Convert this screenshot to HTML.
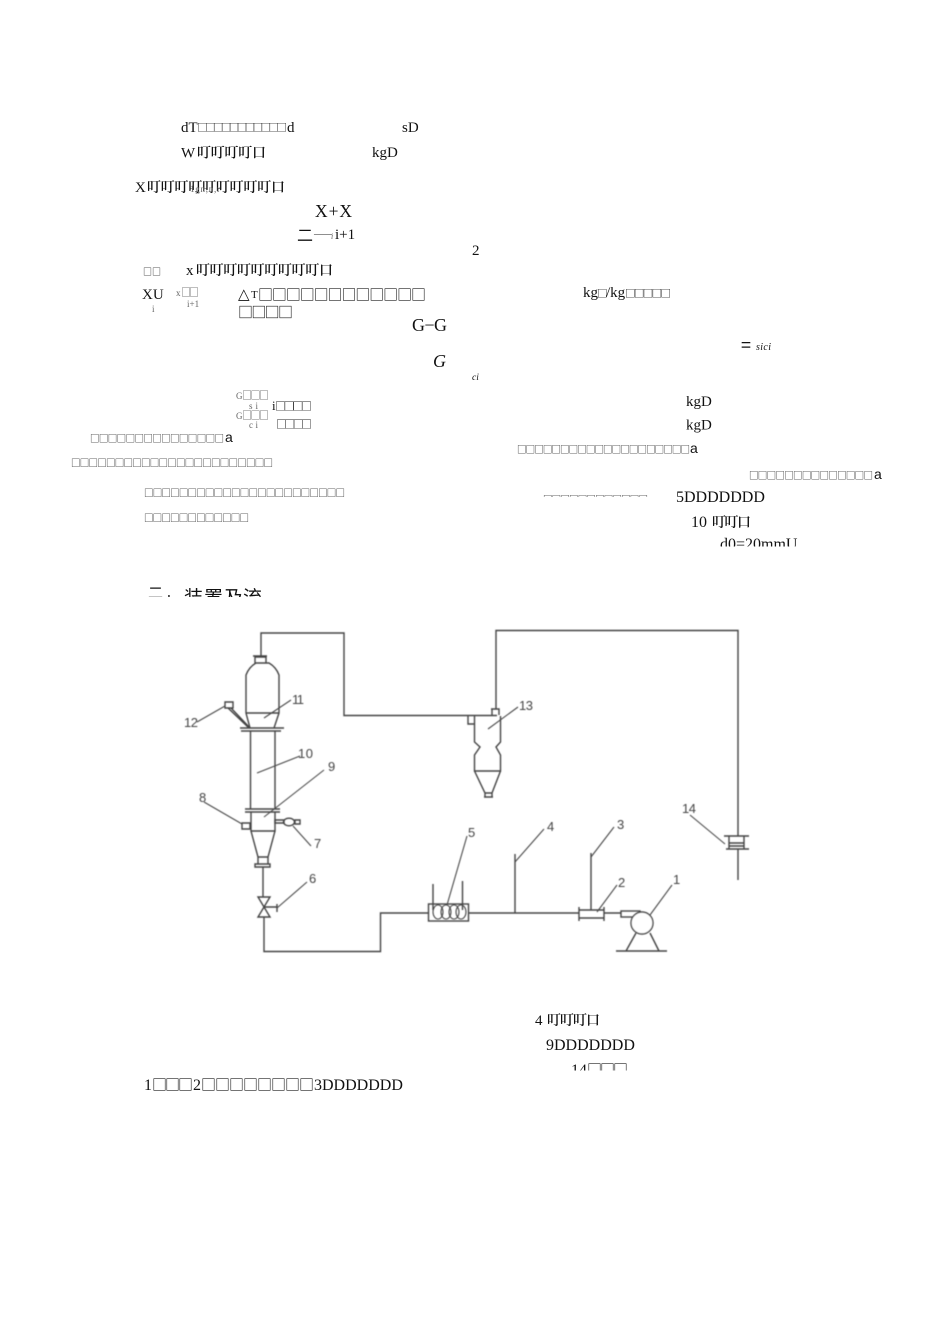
<!DOCTYPE html>
<html lang="zh">
<head>
<meta charset="utf-8">
<title>装置及流程</title>
<style>
html,body{margin:0;padding:0;background:#fff;width:950px;height:1344px;overflow:hidden}
svg{display:block;position:absolute;left:0;top:0}
text{white-space:pre}
.s{font-family:"Liberation Serif",serif;fill:#111;font-size:15px}
.t{font-family:"Liberation Serif","Noto Serif CJK SC",serif;fill:#111;font-size:14px;font-weight:600}
.q{font-family:"Noto Sans CJK SC",sans-serif;fill:#222;font-weight:500}
.m{font-family:"Noto Sans CJK SC",sans-serif;fill:#333;font-size:9.5px;font-weight:500}
.a{font-family:"Liberation Sans",sans-serif;fill:#111;font-size:14px}
.h{font-family:"Noto Sans CJK SC",sans-serif;fill:#111}
.g{font-family:"Liberation Serif",serif;fill:#666;font-size:9px}
.gq{font-family:"Noto Sans CJK SC",sans-serif;fill:#555;font-size:10px}
.l{font-family:"Liberation Sans",sans-serif;fill:#444;font-size:13px}
.d{fill:none;stroke:#444;stroke-width:1.4}
.e{fill:none;stroke:#4a4a4a;stroke-width:1.1}
</style>
</head>
<body>
<svg width="950" height="1344" viewBox="0 0 950 1344" xmlns="http://www.w3.org/2000/svg">
<defs>
<filter id="b" x="-5%" y="-5%" width="110%" height="110%"><feGaussianBlur stdDeviation="0.45"/></filter>
<clipPath id="c1"><rect x="0" y="480" width="950" height="66.5"/></clipPath>
<clipPath id="c2"><rect x="0" y="580" width="950" height="17"/></clipPath>
<clipPath id="c3"><rect x="0" y="1050" width="950" height="20.5"/></clipPath>
<clipPath id="c4"><rect x="530" y="480" width="130" height="17"/></clipPath>
</defs>

<!-- upper left text -->
<text class="s" x="181" y="132">dT</text>
<text class="q" x="197" y="131" font-size="10.5" textLength="90" lengthAdjust="spacing">□□□□□□□□□□□</text>
<text class="s" x="287" y="132">d</text>
<text class="s" x="402" y="132">sD</text>
<text class="s" x="181" y="157.5">W</text>
<text class="t" x="197" y="157.5" textLength="69" lengthAdjust="spacing">叮叮叮叮口</text>
<text class="s" x="372" y="157">kgD</text>
<text class="s" x="135" y="192">X</text>
<text class="t" x="147" y="192" textLength="138" lengthAdjust="spacing">叮叮叮叮叮叮叮叮叮口</text>
<text class="g" x="190" y="192" font-size="7" textLength="30" lengthAdjust="spacing">1gn,n,r</text>
<text class="s" x="315" y="217" style="font-size:17.5px" textLength="37" lengthAdjust="spacing">X+X</text>
<text class="h" x="297" y="241" font-size="16">二</text>
<text class="s" x="314" y="237" style="font-size:9px">——</text>
<text class="g" x="331" y="239" style="font-size:8px;font-style:italic">i</text>
<text class="s" x="335" y="239">i+1</text>
<text class="s" x="472" y="255">2</text>
<text class="q" x="143" y="275" font-size="9" textLength="18" lengthAdjust="spacing">□□</text>
<text class="s" x="186" y="275">x</text>
<text class="t" x="196" y="275" textLength="137" lengthAdjust="spacing">叮叮叮叮叮叮叮叮叮口</text>
<text class="s" x="142" y="299">XU</text>
<text class="g" x="152" y="312">i</text>
<text class="g" x="176" y="296">x</text>
<text class="gq" x="181" y="296" textLength="18" lengthAdjust="spacing">□□</text>
<text class="g" x="187" y="307">i+1</text>
<text class="s" x="238" y="299">△</text>
<text class="s" x="251" y="298" style="font-size:11px">T</text>
<text class="q" x="258" y="300" font-size="15" textLength="168" lengthAdjust="spacing">□□□□□□□□□□□□</text>
<text class="q" x="238" y="317.5" font-size="15" textLength="55" lengthAdjust="spacing">□□□□</text>
<text class="s" x="412" y="331" style="font-size:18px" textLength="35" lengthAdjust="spacing">G−G</text>
<text class="s" x="433" y="367" style="font-size:18px;font-style:italic">G</text>
<text class="s" x="472" y="380" style="font-size:9.5px;font-style:italic">ci</text>
<text class="g" x="236" y="399">G</text>
<text class="gq" x="242" y="399" textLength="27" lengthAdjust="spacing">□□□</text>
<text class="g" x="249" y="409" textLength="9" lengthAdjust="spacing">si</text>
<text class="s" x="272" y="410" style="font-size:13px">i</text>
<text class="q" x="275" y="410" font-size="11" textLength="37" lengthAdjust="spacing">□□□□</text>
<text class="g" x="236" y="419">G</text>
<text class="gq" x="242" y="419" textLength="27" lengthAdjust="spacing">□□□</text>
<text class="g" x="249" y="428" textLength="9" lengthAdjust="spacing">ci</text>
<text class="q" x="276" y="428" font-size="11" textLength="36" lengthAdjust="spacing">□□□□</text>
<text class="m" x="90" y="442" textLength="134" lengthAdjust="spacing">□□□□□□□□□□□□□□□</text>
<text class="a" x="225" y="442">a</text>
<text class="m" x="71" y="466.5" textLength="202" lengthAdjust="spacing">□□□□□□□□□□□□□□□□□□□□□□□</text>
<text class="m" x="144" y="496.5" textLength="201" lengthAdjust="spacing">□□□□□□□□□□□□□□□□□□□□□□□</text>
<text class="m" x="144" y="521.5" textLength="105" lengthAdjust="spacing">□□□□□□□□□□□□</text>

<!-- heading, clipped -->
<g clip-path="url(#c2)">
<text class="h" x="148" y="598" font-size="15">二</text>
<text class="h" x="167" y="597" font-size="14">.</text>
<text class="h" x="184" y="604" font-size="19">装</text>
<text class="h" x="204" y="604" font-size="19">置</text>
<text class="h" x="224" y="604" font-size="19">及</text>
<text class="h" x="243" y="604" font-size="19">流</text>
</g>

<!-- upper right text -->
<text class="s" x="583" y="297">kg</text>
<text class="q" x="597" y="297" font-size="10.5">□</text>
<text class="s" x="606" y="297">/kg</text>
<text class="q" x="625" y="297" font-size="10.5" textLength="46" lengthAdjust="spacing">□□□□□</text>
<text class="h" x="741" y="351.5" font-size="18">=</text>
<text class="s" x="756" y="350" style="font-size:10px;font-style:italic" textLength="15" lengthAdjust="spacing">sici</text>
<text class="s" x="686" y="406">kgD</text>
<text class="s" x="686" y="429.5">kgD</text>
<text class="m" x="517" y="453" textLength="173" lengthAdjust="spacing">□□□□□□□□□□□□□□□□□□□□</text>
<text class="a" x="690" y="453">a</text>
<text class="m" x="749" y="479" textLength="124" lengthAdjust="spacing">□□□□□□□□□□□□□□</text>
<text class="a" x="874" y="479">a</text>
<g clip-path="url(#c4)"><text class="m" x="543" y="503" textLength="105" lengthAdjust="spacing">□□□□□□□□□□□□</text></g>
<text class="s" x="676" y="502" style="font-size:16px">5DDDDDDD</text>
<text class="s" x="691" y="527" style="font-size:16px">10</text>
<text class="t" x="712" y="527" textLength="39" lengthAdjust="spacing">叮叮口</text>
<g clip-path="url(#c1)"><text class="s" x="720" y="549" style="font-size:16px">d0=20mmU</text></g>

<!-- diagram -->
<g filter="url(#b)">
<path class="d" d="M261 656V633H344V715.5H497M496 709V630.5H738V836M738 849V880"/>
<!-- top vessel -->
<path class="d" d="M253 656H267M255 657H266V663H255ZM256 663H269Q276 667 279 675V713L274 728M256 663Q249 667 246 675V713L250 728M246 713H279"/>
<path class="d" d="M240 728H284M241 731H281M250.5 731V809M275 731V809"/>
<path class="d" d="M225 702H233V708H225ZM231 708L250 728M228 708L249 728"/>
<!-- lower vessel -->
<path class="d" d="M245 809H280M245 812H280M251 812V831H275V812M251 831L258 857H268L275 831M258 857V864M268 857V864M255 864H270V867H255ZM263 867V897"/>
<path class="d" d="M275 820H284V823H275ZM295 820H300V824H295Z"/>
<ellipse class="d" cx="289" cy="822" rx="5.5" ry="3.8"/>
<path class="d" d="M242 823H250V829H242Z"/>
<!-- valve -->
<path class="d" d="M258 897H270L258 917H270ZM264 907H277M277 904V912M264 917V951.5H380.5V913H428"/>
<!-- heater -->
<rect class="d" x="428.5" y="904" width="40" height="17"/>
<ellipse class="e" cx="438" cy="912" rx="5" ry="7"/>
<ellipse class="e" cx="446" cy="912" rx="5" ry="7"/>
<ellipse class="e" cx="454" cy="912" rx="5" ry="7"/>
<ellipse class="e" cx="461" cy="912" rx="5" ry="7"/>
<path class="d" d="M433 884V910M462.5 881V910"/>
<path class="d" d="M468 913H579M515 854V913M591 853V910"/>
<!-- rotameter -->
<path class="d" d="M579 907V921M604 907V921M579 910H604M579 918H604M604 913H621"/>
<rect class="d" x="621" y="911" width="19" height="6"/>
<!-- pump -->
<circle class="d" cx="642" cy="923" r="11" style="fill:#fff"/>
<path class="d" d="M626 951L636 933M659 951L650 933M616 951H667"/>
<!-- cyclone -->
<path class="d" d="M468 716V724H474M474.5 716V742L480 747L474.5 755V771H500.5V755L496 747L500.5 742V716M474.5 771L485 793H492L500.5 771M484 797H493M485 793V797M492 793V797"/>
<path class="d" d="M492 715V709H499V715M491 709H499"/>
<!-- item 14 -->
<path class="d" d="M724 836H749M726 849H749M729 836V849M744 836V849M729 843H744M729 846H744"/>
<!-- leaders -->
<path class="e" d="M264 718L291 700M197 722L225 706M257 773L300 756M264 817L324 770M204 802L242 824M293 826L311 846M277 908L307 882M447 905L467 836M515 862L544 829M591 857L614 827M597 912L617 885M650 915L672 885M488 729L518 707M690 815L725 844"/>
<text class="l" x="184" y="727" textLength="14" lengthAdjust="spacing">12</text>
<text class="l" x="292" y="704" textLength="12" lengthAdjust="spacing">11</text>
<text class="l" x="298" y="758" textLength="15" lengthAdjust="spacing">10</text>
<text class="l" x="328" y="771">9</text>
<text class="l" x="199" y="802">8</text>
<text class="l" x="314" y="848">7</text>
<text class="l" x="309" y="883">6</text>
<text class="l" x="468" y="837">5</text>
<text class="l" x="547" y="831">4</text>
<text class="l" x="617" y="829">3</text>
<text class="l" x="618" y="887">2</text>
<text class="l" x="673" y="884">1</text>
<text class="l" x="519" y="710" textLength="14" lengthAdjust="spacing">13</text>
<text class="l" x="682" y="813" textLength="14" lengthAdjust="spacing">14</text>
</g>

<!-- caption -->
<text class="s" x="535" y="1025">4</text>
<text class="t" x="547" y="1025" textLength="53" lengthAdjust="spacing">叮叮叮口</text>
<text class="s" x="546" y="1050" style="font-size:16px">9DDDDDDD</text>
<g clip-path="url(#c3)">
<text class="s" x="571" y="1075" style="font-size:16px">14</text>
<text class="q" x="587" y="1075" font-size="15" textLength="41" lengthAdjust="spacing">□□□</text>
</g>
<text class="s" x="144" y="1090" style="font-size:16px">1</text>
<text class="q" x="152" y="1090" font-size="15" textLength="41" lengthAdjust="spacing">□□□</text>
<text class="s" x="193" y="1090" style="font-size:16px">2</text>
<text class="q" x="201" y="1090" font-size="15" textLength="113" lengthAdjust="spacing">□□□□□□□□</text>
<text class="s" x="314" y="1090" style="font-size:16px">3DDDDDDD</text>
</svg>
</body>
</html>
